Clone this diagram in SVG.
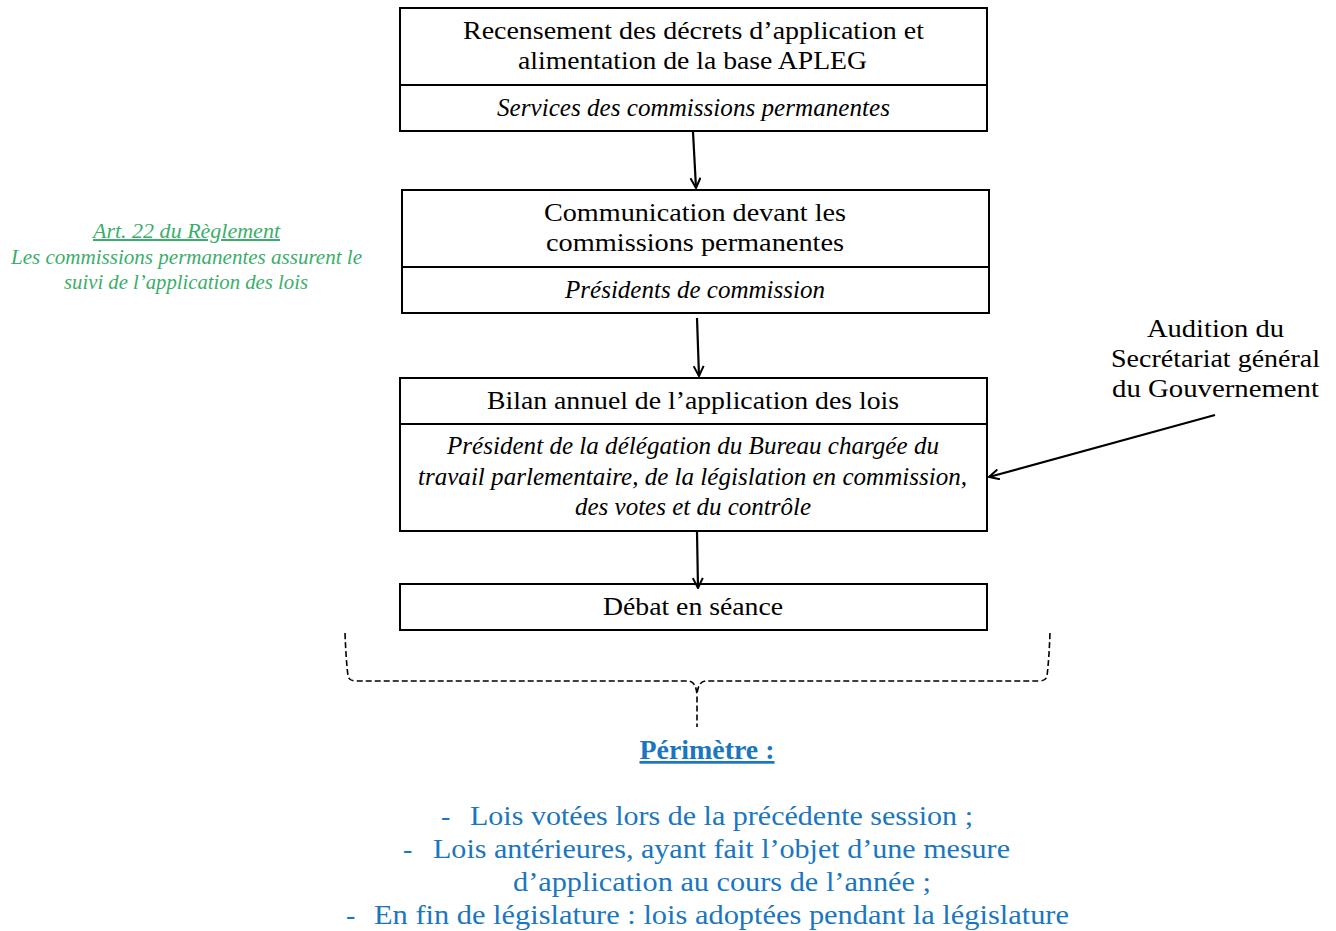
<svg xmlns="http://www.w3.org/2000/svg" width="1336" height="931" viewBox="0 0 1336 931">
<defs>
<style>
.box{fill:#fff;stroke:#000;stroke-width:2}
.t{font-family:"Liberation Serif",serif;font-size:25px;fill:#000;text-anchor:middle}
.i{font-style:italic}
.g{font-family:"Liberation Serif",serif;font-size:20px;font-style:italic;fill:#3aae6a;text-anchor:middle}
.b{font-family:"Liberation Serif",serif;font-size:28px;fill:#1a76c0}
.conn{stroke:#000;stroke-width:2.2;fill:none}
.brace{stroke:#000;stroke-width:1.6;fill:none;stroke-dasharray:6 3}
</style>
<marker id="arr" viewBox="0 0 12 12" refX="11" refY="6" markerWidth="12" markerHeight="12" markerUnits="userSpaceOnUse" orient="auto">
<path d="M1,1 L11,6 L1,11" fill="none" stroke="#000" stroke-width="2"/>
</marker>
</defs>
<rect width="1336" height="931" fill="#fff"/>

<g id="node1">
<rect class="box" x="400" y="8" width="587" height="123"/>
<line class="box" x1="400" y1="85" x2="987" y2="85"/>
<text class="t" x="693.5" y="39" textLength="461" lengthAdjust="spacingAndGlyphs">Recensement des décrets d’application et</text>
<text class="t" x="692.5" y="69" textLength="349" lengthAdjust="spacingAndGlyphs">alimentation de la base APLEG</text>
<text class="t i" x="693.5" y="116" textLength="393" lengthAdjust="spacingAndGlyphs">Services des commissions permanentes</text>
</g>

<g id="node2">
<rect class="box" x="402" y="190" width="587" height="123"/>
<line class="box" x1="402" y1="267" x2="989" y2="267"/>
<text class="t" x="695" y="221" textLength="302" lengthAdjust="spacingAndGlyphs">Communication devant les</text>
<text class="t" x="695" y="251" textLength="298" lengthAdjust="spacingAndGlyphs">commissions permanentes</text>
<text class="t i" x="695" y="298" textLength="260" lengthAdjust="spacingAndGlyphs">Présidents de commission</text>
</g>

<g id="node3">
<rect class="box" x="400" y="378" width="587" height="153"/>
<line class="box" x1="400" y1="424" x2="987" y2="424"/>
<text class="t" x="693" y="409" textLength="412" lengthAdjust="spacingAndGlyphs">Bilan annuel de l’application des lois</text>
<text class="t i" x="693" y="454" textLength="492" lengthAdjust="spacingAndGlyphs">Président de la délégation du Bureau chargée du</text>
<text class="t i" x="692.5" y="485" textLength="549" lengthAdjust="spacingAndGlyphs">travail parlementaire, de la législation en commission,</text>
<text class="t i" x="693" y="515" textLength="236" lengthAdjust="spacingAndGlyphs">des votes et du contrôle</text>
</g>

<g id="node4">
<rect class="box" x="400" y="584" width="587" height="46"/>
<text class="t" x="693" y="615" textLength="180" lengthAdjust="spacingAndGlyphs">Débat en séance</text>
</g>

<g id="note-art22">
<text class="g" x="186.5" y="238" textLength="187" lengthAdjust="spacingAndGlyphs" text-decoration="underline">Art. 22 du Règlement</text>
<text class="g" x="186.5" y="264" textLength="351" lengthAdjust="spacingAndGlyphs">Les commissions permanentes assurent le</text>
<text class="g" x="186" y="289" textLength="244" lengthAdjust="spacingAndGlyphs">suivi de l’application des lois</text>
</g>

<g id="note-sgg">
<text class="t" x="1215.5" y="337" textLength="137" lengthAdjust="spacingAndGlyphs">Audition du</text>
<text class="t" x="1215.5" y="367" textLength="209" lengthAdjust="spacingAndGlyphs">Secrétariat général</text>
<text class="t" x="1215.5" y="397" textLength="207" lengthAdjust="spacingAndGlyphs">du Gouvernement</text>
</g>

<g id="connectors">
<line class="conn" x1="693" y1="132" x2="696" y2="188" marker-end="url(#arr)"/>
<line class="conn" x1="697" y1="318" x2="699" y2="376" marker-end="url(#arr)"/>
<line class="conn" x1="697" y1="532" x2="698" y2="588" marker-end="url(#arr)"/>
<line class="conn" x1="1215" y1="415" x2="989" y2="477" marker-end="url(#arr)"/>
</g>

<g id="brace">
<path class="brace" d="M345,633 Q346,660 348,676 Q349,681 356,681 L688,681 Q696,681 697,695 L697,727"/>
<path class="brace" d="M1050,633 Q1049,660 1047,676 Q1046,681 1039,681 L706,681 Q698,681 697,695"/>
</g>

<g id="perimetre">
<text x="707" y="759" font-family="Liberation Serif,serif" font-size="27" font-weight="bold" fill="#1a76c0" text-anchor="middle" text-decoration="underline" textLength="135" lengthAdjust="spacingAndGlyphs">Périmètre :</text>
<text class="b" x="441" y="825">-</text>
<text class="b" x="470" y="825" textLength="503" lengthAdjust="spacingAndGlyphs">Lois votées lors de la précédente session ;</text>
<text class="b" x="403" y="858">-</text>
<text class="b" x="433" y="858" textLength="577" lengthAdjust="spacingAndGlyphs">Lois antérieures, ayant fait l’objet d’une mesure</text>
<text class="b" x="513" y="891" textLength="418" lengthAdjust="spacingAndGlyphs">d’application au cours de l’année ;</text>
<text class="b" x="346" y="924">-</text>
<text class="b" x="374" y="924" textLength="695" lengthAdjust="spacingAndGlyphs">En fin de législature : lois adoptées pendant la législature</text>
</g>
</svg>
